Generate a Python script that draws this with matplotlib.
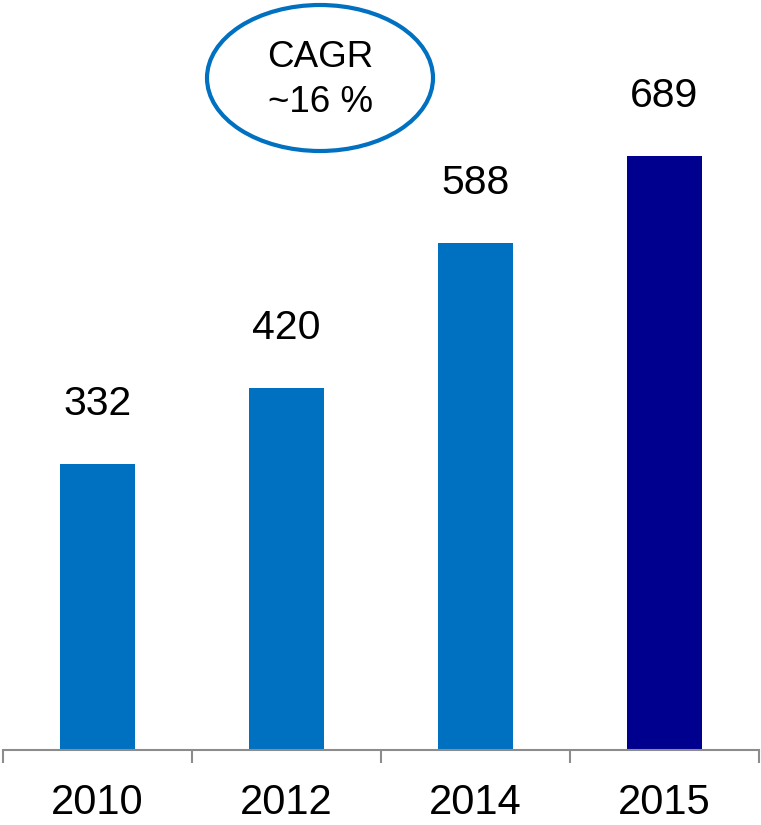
import matplotlib
matplotlib.use('Agg')
import matplotlib.pyplot as plt
from matplotlib.patches import Ellipse

years = ['2010', '2012', '2014', '2015']
values = [332, 420, 588, 689]
colors = ['#0070C0', '#0070C0', '#0070C0', '#00008E']

plt.rcParams['font.family'] = ['Liberation Sans', 'DejaVu Sans']

W, H = 761, 825
fig = plt.figure(figsize=(W / 100, H / 100), dpi=100)
ax = fig.add_axes([3 / W, 75 / H, 756 / W, 750 / H])

x = list(range(len(years)))
ax.bar(x, values, width=0.40, color=colors)
for xi, v in zip(x, values):
  ax.annotate(str(v), (xi, v), xytext=(0, 35), textcoords='offset points',
              ha='center', va='baseline', fontsize=29.5)

ax.set_xlim(-0.5, 3.5)
ax.set_ylim(0, 870)
ax.set_yticks([])
for s in ('top', 'right', 'left'):
  ax.spines[s].set_visible(False)
ax.spines['bottom'].set_color('#8c8c8c')
ax.spines['bottom'].set_linewidth(1.5)

ax.set_xticks([-0.5, 0.5, 1.5, 2.5, 3.5])
ax.set_xticklabels([])
ax.tick_params(axis='x', which='major', length=9, width=1.5, color='#8c8c8c')
ax.set_xticks(x, minor=True)
ax.set_xticklabels(years, minor=True, fontsize=30)
ax.tick_params(axis='x', which='minor', length=0, pad=24)

# CAGR bubble
ell = Ellipse((320 / W, 1 - 78 / H), 226 / W, 146 / H, transform=fig.transFigure,
              fill=False, edgecolor='#0070C0', linewidth=3)
fig.patches.append(ell)
fig.text(320 / W, 1 - 67 / H, 'CAGR', ha='center', va='baseline', fontsize=26.5)
fig.text(320 / W, 1 - 112 / H, '~16 %', ha='center', va='baseline', fontsize=26.5)

fig.savefig('out.png', dpi=100)
